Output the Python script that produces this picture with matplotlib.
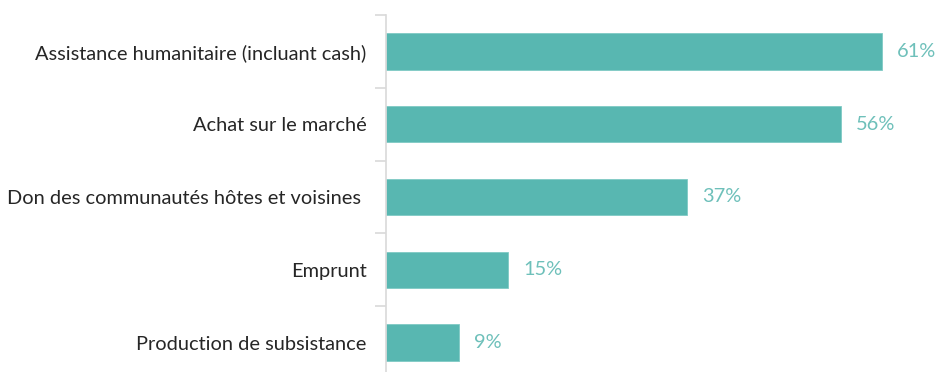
import matplotlib
matplotlib.use("Agg")
import matplotlib.pyplot as plt

categories = [
    "Assistance humanitaire (incluant cash)",
    "Achat sur le marché",
    "Don des communautés hôtes et voisines ",
    "Emprunt",
    "Production de subsistance",
]
values = [61, 56, 37, 15, 9]
value_labels = ["61%", "56%", "37%", "15%", "9%"]

plt.rcParams['font.family'] = ['Lato', 'DejaVu Sans']

W, H = 936, 372
fig = plt.figure(figsize=(W / 100, H / 100), dpi=100)
left = 386 / W
top = 1 - 15 / H
bottom = -7 / H
ax = fig.add_axes([left, bottom, 1 - left, top - bottom])

n = len(categories)
ypos = list(range(n))
bar_color = "#58B7B1"
ax.barh(ypos, values, height=0.5, color=bar_color, edgecolor="#7FCAC5", linewidth=0.6)
ax.set_ylim(n - 0.5, -0.5)
ax.set_xlim(0, (W - 386) / 8.13)

for y, v, lab in zip(ypos, values, value_labels):
    ax.annotate(lab, (v, y), xytext=(15, 0), textcoords="offset pixels",
                va="center", ha="left", fontsize=14.4, color="#6EC0BA")

ax.set_yticks([i for i in ypos])
ax.set_yticklabels(categories, fontsize=14.4, color="#262626")
ax.tick_params(axis="y", length=0, pad=14)
ax.set_yticks([i - 0.5 for i in range(n + 1)], minor=True)
ax.tick_params(axis="y", which="minor", length=8, color="#D9D9D9", width=1.2)
ax.set_xticks([])
for s in ["top", "right", "bottom"]:
    ax.spines[s].set_visible(False)
ax.spines["left"].set_color("#D9D9D9")
ax.spines["left"].set_linewidth(1.2)

fig.savefig("out.png", dpi=100)
